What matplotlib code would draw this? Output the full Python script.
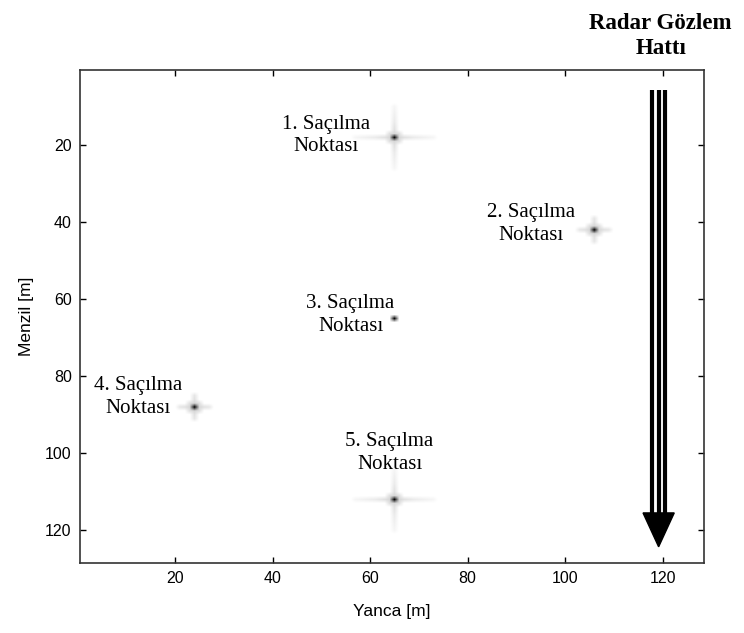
import numpy as np
import matplotlib
matplotlib.use('Agg')
import matplotlib.pyplot as plt
from matplotlib.patches import Polygon

# scatterer positions (cross-range x, range y) in metres
sx = [65, 106, 65, 24, 65]
sy = [18, 42, 65, 88, 112]
# sidelobe extent of each point response (pixels), horizontal / vertical
sl_h = [8, 3, 0, 3, 8]
sl_v = [8, 3, 0, 3, 8]
sidelobe = [0.16, 0.12, 0.10, 0.08, 0.07, 0.06, 0.05, 0.04, 0.035]

labels = ['1. Saçılma\nNoktası', '2. Saçılma\nNoktası', '3. Saçılma\nNoktası',
          '4. Saçılma\nNoktası', '5. Saçılma\nNoktası']
label_x = [51, 93, 56, 12.5, 64]
label_y = [17.5, 40.5, 64, 85.5, 100]

xticks = [20, 40, 60, 80, 100, 120]
yticks = [20, 40, 60, 80, 100, 120]

N = 128
img = np.zeros((N, N))
for x, y, h, v in zip(sx, sy, sl_h, sl_v):
    r, c = y - 1, x - 1
    for k in range(1, h + 1):
        for cc in (c - k, c + k):
            img[r, cc] = max(img[r, cc], sidelobe[k - 1])
    for k in range(1, v + 1):
        for rr in (r - k, r + k):
            img[rr, c] = max(img[rr, c], sidelobe[k - 1])
    if h > 0:
        img[r - 1:r + 2, c - 1:c + 2] = np.maximum(img[r - 1:r + 2, c - 1:c + 2], 0.12)
    img[r, c] = 1.0

plt.rcParams['font.family'] = ['Liberation Sans', 'DejaVu Sans']

fig = plt.figure(figsize=(7.44, 6.33), dpi=100)
ax = fig.add_axes([0.1075, 0.1106, 0.8387, 0.7788])
ax.imshow(img, cmap='gray_r', vmin=0, vmax=1, extent=[0.5, 128.5, 128.5, 0.5],
          aspect='auto', interpolation='bilinear')

ax.set_xticks(xticks)
ax.set_yticks(yticks)
ax.tick_params(direction='in', length=4, width=1, top=True, right=True,
               labelsize=11.5, pad=6)
for s in ax.spines.values():
    s.set_linewidth(1.2)
    s.set_color('#333333')
ax.set_xlabel('Yanca [m]', fontsize=12.5, labelpad=13)
ax.set_ylabel('Menzil [m]', fontsize=12.5, labelpad=8)

for t, x, y in zip(labels, label_x, label_y):
    ax.text(x, y, t, ha='center', va='center', fontsize=15,
            family='Liberation Serif', linespacing=1.28)

# radar observation line arrow
ax_x = 119.2
for dx in (-1.33, 0, 1.33):
    ax.plot([ax_x + dx, ax_x + dx], [5.7, 117], color='black', lw=3,
            solid_capstyle='butt')
ax.add_patch(Polygon([[ax_x - 3.2, 115.5], [ax_x + 3.2, 115.5], [ax_x, 124.3]],
                     closed=True, color='black'))

fig.text(0.888, 0.943, 'Radar Gözlem\nHattı', ha='center', va='center',
         fontsize=16.5, fontweight='bold', family='Liberation Serif', linespacing=1.3)

fig.savefig('out.png', dpi=100)
